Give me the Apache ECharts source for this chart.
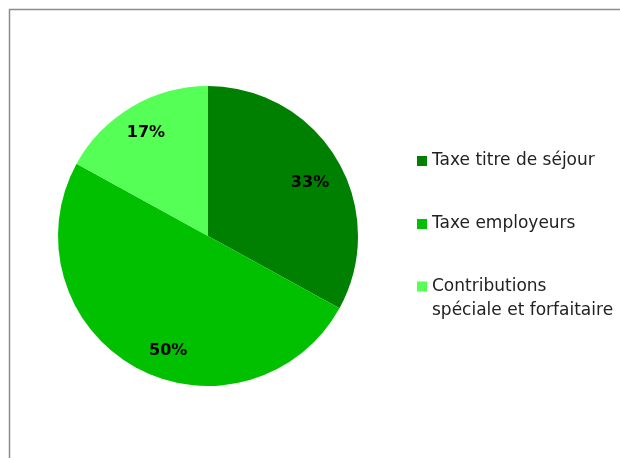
<!DOCTYPE html>
<html>
<head>
<meta charset="utf-8">
<script src="https://cdn.jsdelivr.net/npm/echarts@6/dist/echarts.min.js"></script>
<style>
  html, body { margin: 0; padding: 0; background: #ffffff; }
  #chart { width: 620px; height: 458px; }
</style>
</head>
<body>
<div id="chart"></div>
<script>
// Répartition des recettes (en %)
const categories = ['Taxe titre de séjour', 'Taxe employeurs', 'Contributions spéciale et forfaitaire'];
const legendLines = [['Taxe titre de séjour'], ['Taxe employeurs'], ['Contributions', 'spéciale et forfaitaire']];
const shares = [33, 50, 17];
const colors = ['#008000', '#00C000', '#55FF55'];

const chart = echarts.init(document.getElementById('chart'), null, { renderer: 'canvas' });

const pieData = categories.map((name, i) => ({
  name: name,
  value: shares[i],
  itemStyle: { color: colors[i] }
}));

// label nudges so the percentages sit where they read best in each slice
const labelOffsets = [[-3, 9], [19, 8], [0, 2]];

const labelData = categories.map((name, i) => ({
  name: name,
  value: shares[i],
  label: { offset: labelOffsets[i] }
}));

const legendText = {
  fontFamily: 'DejaVu Sans',
  fontSize: 17,
  color: '#222222',
  lineHeight: 24
};

// multi-line entries get a blank leading line so the swatch sits beside the first line
function legendFormatter(i) {
  const lines = legendLines[i];
  if (lines.length === 1) return '{t|' + lines[0] + '}';
  return ['{t| }'].concat(lines.map(l => '{t|' + l + '}')).join('\n');
}

function legendFor(i, top) {
  return {
    orient: 'vertical',
    left: 417,
    top: top,
    padding: 0,
    itemWidth: 10,
    itemHeight: 10,
    itemGap: 0,
    icon: 'rect',
    selectedMode: false,
    data: [categories[i]],
    formatter: () => legendFormatter(i),
    textStyle: { rich: { t: legendText } }
  };
}

chart.setOption({
  animation: false,
  backgroundColor: '#ffffff',
  graphic: [{
    type: 'rect',
    silent: true,
    shape: { x: 9.5, y: 9.5, width: 700, height: 600 },
    style: { fill: 'none', stroke: '#8c8c8c', lineWidth: 1.5 }
  }],
  legend: [
    legendFor(0, 152.5),
    legendFor(1, 215.5),
    legendFor(2, 254)
  ],
  series: [
    {
      type: 'pie',
      center: [208, 236],
      radius: [0, 150],
      startAngle: 90,
      clockwise: true,
      label: { show: false },
      labelLine: { show: false },
      emphasis: { disabled: true },
      data: pieData
    },
    {
      // transparent ring that carries the percentage labels
      type: 'pie',
      center: [208, 236],
      radius: [88, 150],
      startAngle: 90,
      clockwise: true,
      silent: true,
      legendHoverLink: false,
      itemStyle: { color: 'rgba(0,0,0,0)' },
      label: {
        show: true,
        position: 'inside',
        formatter: '{c}%',
        fontFamily: 'DejaVu Sans',
        fontWeight: 'bold',
        fontSize: 16,
        color: '#000000'
      },
      labelLine: { show: false },
      emphasis: { disabled: true },
      data: labelData
    }
  ]
});
</script>
</body>
</html>
